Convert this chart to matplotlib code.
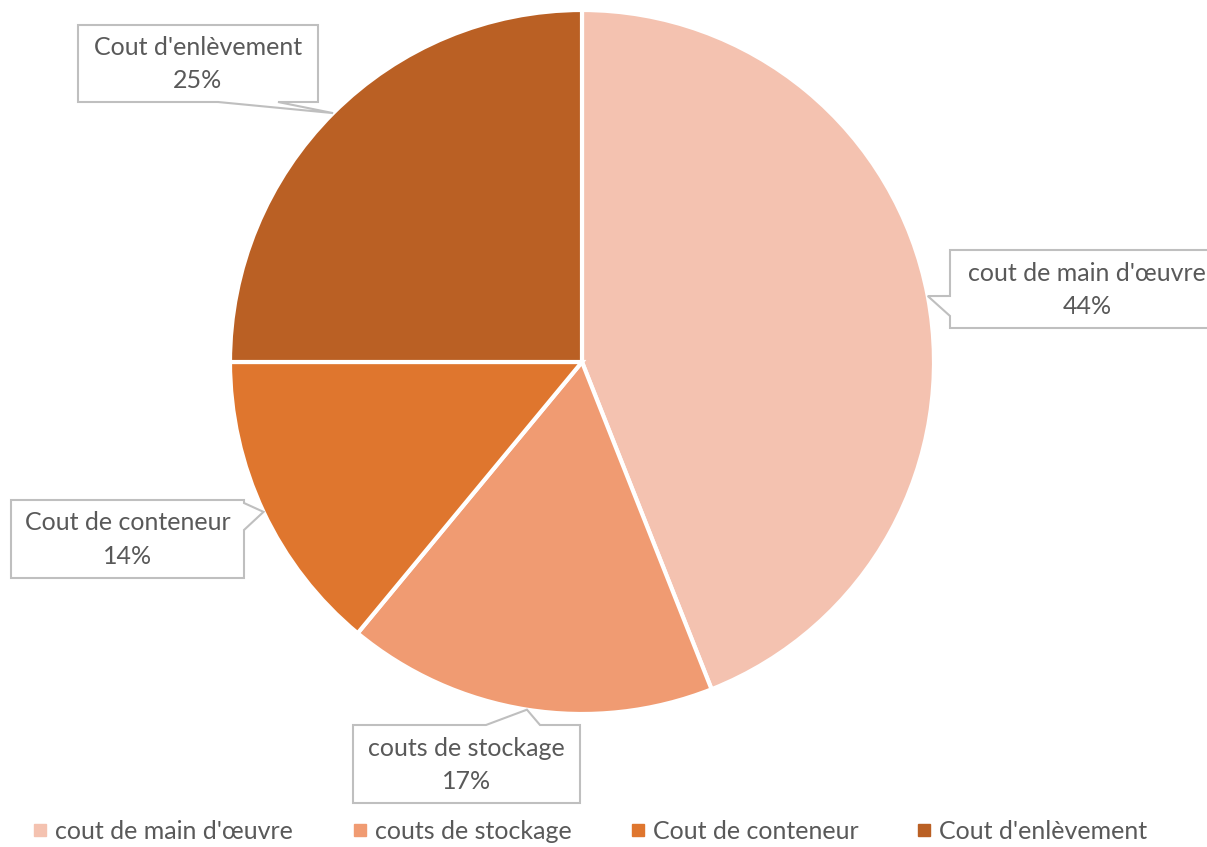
import numpy as np
import matplotlib
matplotlib.use('Agg')
import matplotlib.pyplot as plt
from matplotlib.patches import Polygon
from matplotlib.lines import Line2D

categories = ["cout de main d'œuvre", "couts de stockage", "Cout de conteneur", "Cout d'enlèvement"]
values = [44, 17, 14, 25]
colors = ['#F4C2B0', '#F09B72', '#DF762E', '#BA6024']

W, H = 1207, 847
plt.rcParams['font.family'] = ['Lato', 'DejaVu Sans']
txt_color = '#595959'
fs = 18

fig = plt.figure(figsize=(W / 100, H / 100), dpi=100)
ax = fig.add_axes([0, 0, 1, 1])

cx, cy, R = 582, H - 362, 352
wedges, _ = ax.pie(values, colors=colors, startangle=90, counterclock=False,
                   center=(cx, cy), radius=R, frame=True,
                   wedgeprops=dict(edgecolor='white', linewidth=3))
ax.set_xlim(0, W)
ax.set_ylim(0, H)
ax.set_aspect('equal')
ax.axis('off')

# callout boxes: (x0, ytop, x1, ybottom) in image pixels, side of pointer, base span
boxes = [
    ((950, 250, 1215, 328), 'left', (296, 316)),
    ((353, 725, 580, 803), 'top', (486, 540)),
    ((11, 500, 244, 578), 'right', (503, 530)),
    ((78, 25, 318, 102), 'bottom', (218, 278)),
]

for w, val, cat, (box, side, base) in zip(wedges, values, categories, boxes):
    mid = np.deg2rad((w.theta1 + w.theta2) / 2)
    tip = (cx + R * np.cos(mid), cy + R * np.sin(mid))
    x0, yt, x1, yb = box
    yt, yb = H - yt, H - yb
    if side == 'left':
        b0, b1 = H - base[0], H - base[1]
        pts = [(x0, yt), (x1, yt), (x1, yb), (x0, yb), (x0, b1), tip, (x0, b0)]
    elif side == 'right':
        b0, b1 = H - base[0], H - base[1]
        pts = [(x0, yt), (x1, yt), (x1, b0), tip, (x1, b1), (x1, yb), (x0, yb)]
    elif side == 'top':
        pts = [(x0, yt), (base[0], yt), tip, (base[1], yt), (x1, yt), (x1, yb), (x0, yb)]
    else:
        pts = [(x0, yt), (x1, yt), (x1, yb), (base[1], yb), tip, (base[0], yb), (x0, yb)]
    ax.add_patch(Polygon(pts, closed=True, facecolor='white', edgecolor='#BFBFBF',
                         linewidth=1.5, zorder=5, clip_on=False))
    xc = (x0 + x1) / 2 if side != 'left' else 1087
    ymid = (yt + yb) / 2
    ax.text(xc, ymid + 16, cat, ha='center', va='center', fontsize=fs,
            color=txt_color, zorder=6)
    ax.text(xc, ymid - 17, f"{val}%", ha='center', va='center', fontsize=fs,
            color=txt_color, zorder=6)

handles = [Line2D([], [], marker='s', linestyle='none', markersize=8,
                  markerfacecolor=c, markeredgecolor=c) for c in colors]
fig.legend(handles, categories, loc='lower center', bbox_to_anchor=(0.487, -0.022),
           ncol=4, frameon=False, fontsize=fs, labelcolor=txt_color,
           handletextpad=0.1, columnspacing=2.15, handlelength=1.0)

fig.savefig('out.png', dpi=100, facecolor='white')
